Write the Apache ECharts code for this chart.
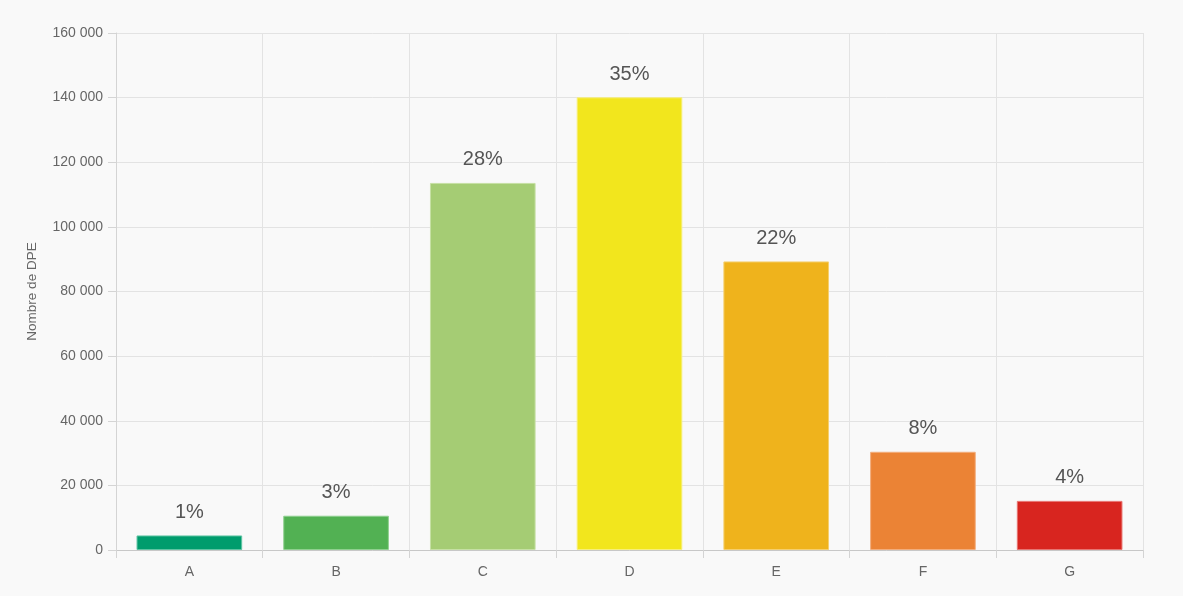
<!DOCTYPE html>
<html>
<head>
<meta charset="utf-8">
<script src="https://cdn.jsdelivr.net/npm/echarts@6/dist/echarts.min.js"></script>
<style>
html,body{margin:0;padding:0;background:#f9f9f9;}
#chart{width:1183px;height:596px;}
</style>
</head>
<body>
<div id="chart"></div>
<script>
const categories = ['A', 'B', 'C', 'D', 'E', 'F', 'G'];
const counts = [4500, 10600, 113600, 140100, 89300, 30400, 15200];
const percentLabels = ['1%', '3%', '28%', '35%', '22%', '8%', '4%'];
const barColors = ['#009c6d', '#52b153', '#a5cc74', '#f2e61d', '#efb31c', '#eb8335', '#d8251f'];
const borderColors = ['#5fc4a3', '#8fd08f', '#c6e0a4', '#f7ef7a', '#f5cf6e', '#f2ad7c', '#e77571'];
const yTicks = { min: 0, max: 160000, interval: 20000 };

const fmt = v => String(v).replace(/\B(?=(\d{3})+(?!\d))/g, ' ');
const font = 'Helvetica, Arial, "Liberation Sans", sans-serif';

const chart = echarts.init(document.getElementById('chart'));
chart.setOption({
  backgroundColor: '#f9f9f9',
  animation: false,
  grid: { left: 116, right: 40, top: 33, bottom: 46, containLabel: false },
  xAxis: {
    type: 'category',
    data: categories,
    boundaryGap: true,
    axisLine: { show: true, lineStyle: { color: '#c8c8c8', width: 1 } },
    axisTick: { show: true, alignWithLabel: false, length: 8, lineStyle: { color: '#d4d4d4' } },
    axisLabel: { color: '#666', fontSize: 14, margin: 15, fontFamily: font },
    splitLine: { show: true, lineStyle: { color: '#e3e3e3' } }
  },
  yAxis: {
    type: 'value',
    min: yTicks.min, max: yTicks.max, interval: yTicks.interval,
    name: 'Nombre de DPE',
    nameLocation: 'middle',
    nameGap: 77,
    nameTextStyle: { color: '#666', fontSize: 13.5, fontFamily: font },
    axisLine: { show: true, lineStyle: { color: '#d4d4d4' } },
    axisTick: { show: true, length: 8, lineStyle: { color: '#d4d4d4' } },
    axisLabel: { color: '#666', fontSize: 14, margin: 13, fontFamily: font, formatter: fmt },
    splitLine: { show: true, lineStyle: { color: '#e3e3e3' } }
  },
  series: [{
    type: 'bar',
    barWidth: '72%',
    data: counts.map((v, i) => ({
      value: v,
      itemStyle: { color: barColors[i], borderColor: borderColors[i], borderWidth: 1 },
      label: { formatter: percentLabels[i] }
    })),
    label: {
      show: true,
      position: 'top',
      distance: 13,
      color: '#555',
      fontSize: 20,
      fontFamily: font
    }
  }]
});
</script>
</body>
</html>
